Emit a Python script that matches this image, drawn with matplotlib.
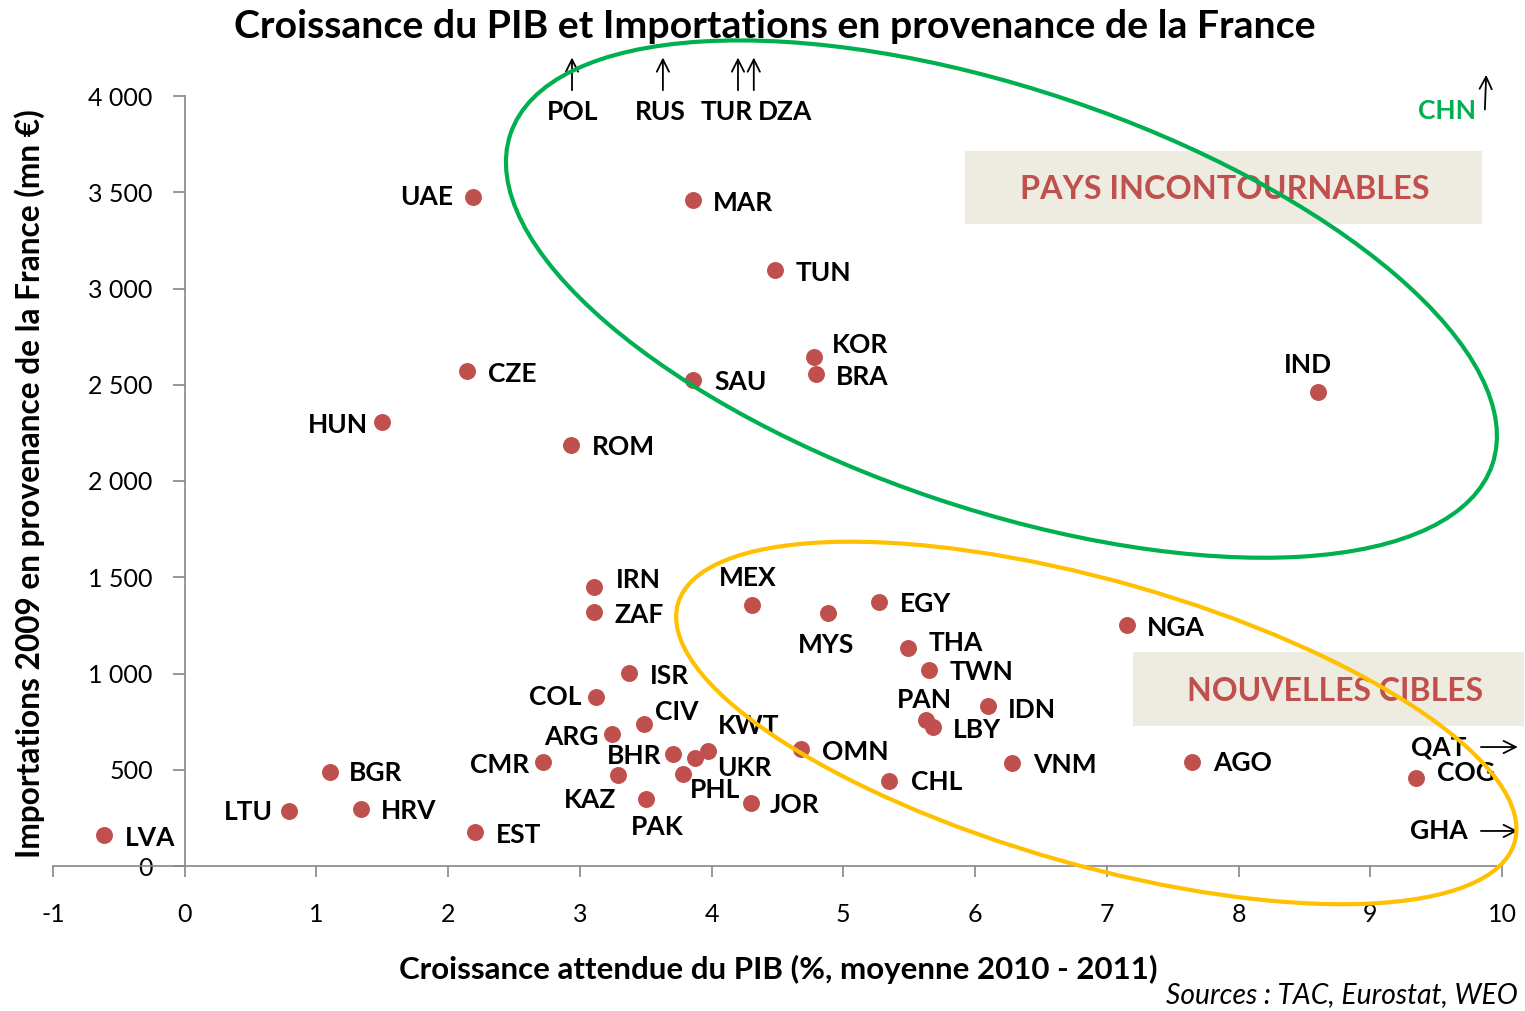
import numpy as np
import matplotlib
matplotlib.use("Agg")
import matplotlib.pyplot as plt
from matplotlib.patches import Ellipse, Rectangle
from matplotlib.transforms import Affine2D
from matplotlib.ticker import FuncFormatter, MultipleLocator

plt.rcParams['font.family'] = ['Lato', 'DejaVu Sans']
plt.rcParams['axes.unicode_minus'] = False

# countries shown inside the plot area
countries = ["LVA", "LTU", "BGR", "HRV", "EST", "HUN", "CZE", "UAE", "ROM", "CMR",
             "IRN", "ZAF", "ISR", "COL", "CIV", "ARG", "BHR", "KAZ", "PAK", "PHL",
             "UKR", "KWT", "JOR", "MEX", "MYS", "EGY", "THA", "TWN", "PAN", "LBY",
             "IDN", "OMN", "CHL", "VNM", "NGA", "AGO", "COG", "IND", "MAR", "TUN",
             "KOR", "BRA", "SAU"]
growth = [-0.61, 0.79, 1.10, 1.34, 2.20, 1.50, 2.14, 2.19, 2.93, 2.72,
          3.11, 3.11, 3.37, 3.12, 3.49, 3.24, 3.71, 3.29, 3.50, 3.78,
          3.87, 3.97, 4.30, 4.31, 4.88, 5.27, 5.49, 5.65, 5.63, 5.68,
          6.10, 4.68, 5.35, 6.28, 7.15, 7.65, 9.35, 8.60, 3.86, 4.48,
          4.78, 4.79, 3.86]
imports = [161, 286, 488, 296, 177, 2306, 2571, 3475, 2187, 540,
           1449, 1319, 1003, 878, 738, 686, 582, 473, 348, 478,
           561, 597, 327, 1356, 1314, 1371, 1132, 1018, 758, 722,
           831, 608, 442, 535, 1252, 540, 457, 2462, 3460, 3096,
           2644, 2556, 2525]

# countries off the scale (top: imports > 4000, right: growth > 10)
off_top = ["POL", "RUS", "TUR", "DZA"]
off_top_growth = [2.94, 3.63, 4.20, 4.32]
off_right = ["QAT", "GHA"]
off_right_imports = [618, 182]
chn_growth = 9.87

# label offsets in pixels (dx to the right, dy upwards) and alignment
label_pos = {
    "LVA": (21, -3, "left"), "LTU": (-16, -1, "right"), "BGR": (19, -1, "left"),
    "HRV": (20, -2, "left"), "EST": (21, -3, "left"), "HUN": (-14, -3, "right"),
    "CZE": (21, -3, "left"), "UAE": (-20, 0, "right"), "ROM": (21, -2, "left"),
    "CMR": (-14, -3, "right"), "IRN": (21, 7, "left"), "ZAF": (20, -3, "left"),
    "ISR": (21, -3, "left"), "COL": (-14, 0, "right"), "CIV": (11, 12, "left"),
    "ARG": (-13, -3, "right"), "BHR": (-12, -2, "right"), "KAZ": (-2, -25, "right"),
    "PAK": (11, -28, "center"), "PHL": (7, -16, "left"), "UKR": (23, -10, "left"),
    "KWT": (10, 25, "left"), "JOR": (19, -2, "left"), "MEX": (-5, 27, "center"),
    "MYS": (-1, -32, "center"), "EGY": (21, -2, "left"), "THA": (21, 5, "left"),
    "TWN": (21, -2, "left"), "PAN": (-2, 20, "center"), "LBY": (20, -3, "left"),
    "IDN": (20, -4, "left"), "OMN": (21, -3, "left"), "CHL": (22, -1, "left"),
    "VNM": (21, -2, "left"), "NGA": (20, -3, "left"), "AGO": (21, -1, "left"),
    "COG": (21, 5, "left"), "IND": (-10, 27, "center"), "MAR": (20, -3, "left"),
    "TUN": (21, -3, "left"), "KOR": (17, 12, "left"), "BRA": (20, -3, "left"),
    "SAU": (21, -2, "left"),
}
top_label_dx = {"POL": 1, "RUS": -3, "TUR": -11, "DZA": 31}

W, H = 1525, 1011
grey = "#868686"
red = "#C0504D"
green = "#00B050"
yellow = "#FFC000"
box_fill = "#EEEBE0"
lab_fs = 19

fig = plt.figure(figsize=(W / 100, H / 100), dpi=100)
ax = fig.add_axes([53 / W, (H - 866) / H, (1502 - 53) / W, 770 / H])
ax.set_xlim(-1, 10)
ax.set_ylim(0, 4000)
ax.spines['left'].set_position(('data', 0))
for s in ['top', 'right']:
    ax.spines[s].set_visible(False)
for s in ['left', 'bottom']:
    ax.spines[s].set_color(grey)
    ax.spines[s].set_linewidth(1.2)
ax.xaxis.set_major_locator(MultipleLocator(1))
ax.yaxis.set_major_locator(MultipleLocator(500))
ax.xaxis.set_major_formatter(FuncFormatter(lambda v, p: f"{v:.0f}"))
ax.yaxis.set_major_formatter(FuncFormatter(lambda v, p: f"{v:,.0f}".replace(",", " ")))
ax.tick_params(axis='x', direction='out', length=8, width=1.2, color=grey, pad=19, labelsize=18)
ax.tick_params(axis='y', direction='out', length=9, width=1.2, color=grey, pad=14, labelsize=18)

ax.scatter(growth, imports, s=125, color=red, zorder=3, clip_on=False)
for name, x, y in zip(countries, growth, imports):
    dx, dy, ha = label_pos[name]
    ax.annotate(name, (x, y), xytext=(dx, dy), textcoords='offset pixels',
                ha=ha, va='center', fontsize=lab_fs, fontweight='bold', zorder=4)

# off-scale countries: arrows
arrow = dict(arrowstyle='->', color='black', lw=1.3, shrinkA=0, shrinkB=0, mutation_scale=22)
for name, x in zip(off_top, off_top_growth):
    ax.annotate("", xy=(x, 4200), xytext=(x, 4030), arrowprops=arrow, annotation_clip=False)
    ax.annotate(name, (x, 4030), xytext=(top_label_dx[name], -22), textcoords='offset pixels',
                ha='center', va='center', fontsize=lab_fs, fontweight='bold', annotation_clip=False)
ax.annotate("", xy=(chn_growth + 0.01, 4110), xytext=(chn_growth, 3930), arrowprops=arrow,
            annotation_clip=False)
ax.annotate("CHN", (chn_growth, 3930), xytext=(-38, -2), textcoords='offset pixels',
            ha='center', va='center', fontsize=lab_fs, fontweight='bold', color=green,
            annotation_clip=False)
for name, y in zip(off_right, off_right_imports):
    ax.annotate("", xy=(10.12, y), xytext=(9.84, y), arrowprops=arrow, annotation_clip=False)
    ax.annotate(name, (9.84, y), xytext=(-42, 0), textcoords='offset pixels',
                ha='center', va='center', fontsize=lab_fs, fontweight='bold', annotation_clip=False)

# ellipses (centre in data units, axes in pixels)
def ring(cx, cy, a, b, angle, color):
    px, py = ax.transData.transform((cx, cy))
    e = Ellipse((0, 0), 2 * a, 2 * b, angle=-angle, fill=False, edgecolor=color, lw=3.0,
                transform=Affine2D().translate(px, py), zorder=5, clip_on=False)
    fig.add_artist(e)

ring(6.20, 2945, 518, 210, 18.6, green)
ring(6.92, 743, 435, 142, 15.9, yellow)

# labelled boxes
ax.add_patch(Rectangle((5.92, 3335), 3.93, 379, facecolor=box_fill, edgecolor='none',
                       zorder=6, clip_on=False))
ax.text(7.895, 3512, "PAYS INCONTOURNABLES", ha='center', va='center', fontsize=23.3,
        fontweight='bold', color=red, zorder=7)
ax.add_patch(Rectangle((7.20, 727), 2.97, 385, facecolor=box_fill, edgecolor='none',
                       zorder=6, clip_on=False))
ax.text(8.73, 904, "NOUVELLES CIBLES", ha='center', va='center', fontsize=23,
        fontweight='bold', color=red, zorder=7, clip_on=False)

fig.text(775 / W, 1 - 27 / H, "Croissance du PIB et Importations en provenance de la France",
         ha='center', va='center', fontsize=28.3, fontweight='bold')
fig.text(778 / W, 1 - 969 / H, "Croissance attendue du PIB (%, moyenne 2010 - 2011)",
         ha='center', va='center', fontsize=22.5, fontweight='bold')
fig.text(30 / W, 1 - 484 / H, "Importations 2009 en provenance de la France (mn €)",
         ha='center', va='center', rotation=90, fontsize=22.8, fontweight='bold')
fig.text(1518 / W, 1 - 995 / H, "Sources : TAC, Eurostat, WEO", ha='right', va='center',
         fontsize=20.3, style='italic')

fig.savefig("out.png", dpi=100)
